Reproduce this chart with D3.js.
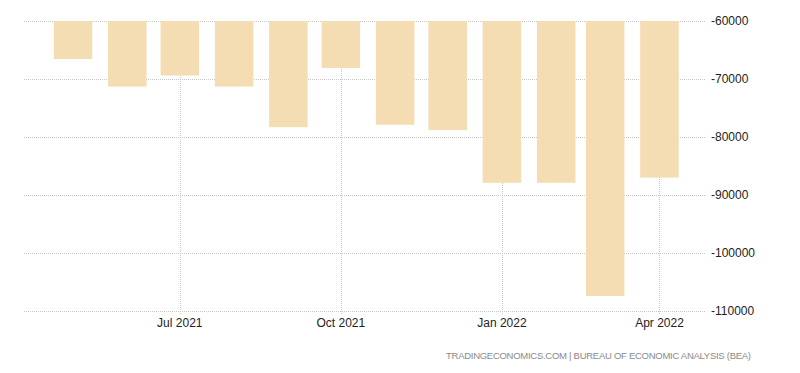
<!DOCTYPE html>
<html>
<head>
<meta charset="utf-8">
<script src="https://cdn.jsdelivr.net/npm/d3@7"></script>
<style>
  html, body { margin: 0; padding: 0; background: #fff; }
  svg { display: block; }
</style>
</head>
<body>
<svg id="chart" width="800" height="373"></svg>
<script>
// ---- data ----
const months = ["2021-05","2021-06","2021-07","2021-08","2021-09","2021-10","2021-11","2021-12","2022-01","2022-02","2022-03","2022-04"];
const values = [-66550, -71300, -69400, -71300, -78300, -68100, -77900, -78800, -87900, -87900, -107400, -87000];
const yTicks = [-60000, -70000, -80000, -90000, -100000, -110000];
const xTickDates = ["2021-07","2021-10","2022-01","2022-04"];
const xTickLabels = ["Jul 2021","Oct 2021","Jan 2022","Apr 2022"];
const sourceText = "TRADINGECONOMICS.COM | BUREAU OF ECONOMIC ANALYSIS (BEA)";

// ---- layout ----
(function () {
const parse = d3.timeParse("%Y-%m");
const svg = d3.select("#chart");
const plotL = 24, plotR = 705, plotT = 21, plotB = 311;

const x = d3.scaleTime()
  .domain([new Date(2021, 3, 3), new Date(2022, 3, 27)])
  .range([plotL, plotR]);
const y = d3.scaleLinear()
  .domain([-60000, -110000])
  .range([plotT, plotB]);

const gridColor = "#c8c8c8";

// horizontal grid
svg.append("g").selectAll("line").data(yTicks).join("line")
  .attr("x1", plotL).attr("x2", plotR)
  .attr("y1", d => Math.round(y(d)) + 0.5).attr("y2", d => Math.round(y(d)) + 0.5)
  .attr("stroke", gridColor).attr("stroke-width", 1)
  .attr("stroke-dasharray", "1,1");

// vertical grid
svg.append("g").selectAll("line").data(xTickDates).join("line")
  .attr("x1", d => Math.round(x(parse(d))) + 0.5).attr("x2", d => Math.round(x(parse(d))) + 0.5)
  .attr("y1", plotT).attr("y2", plotB + 3)
  .attr("stroke", gridColor).attr("stroke-width", 1)
  .attr("stroke-dasharray", "1,1");

// bars
const barW = d => (x(d3.timeDay.offset(d, 11)) - x(d3.timeDay.offset(d, -11)));
svg.append("g").selectAll("rect").data(months.map((m, i) => ({d: parse(m), v: values[i]}))).join("rect")
  .attr("x", p => x(d3.timeDay.offset(p.d, -11)))
  .attr("width", p => barW(p.d))
  .attr("y", y(-60000))
  .attr("height", p => y(p.v) - y(-60000))
  .attr("fill", "#F4DDB2");

// y axis labels (right)
svg.append("g").selectAll("text").data(yTicks).join("text")
  .attr("x", 711).attr("y", d => y(d))
  .attr("dy", "0.35em")
  .attr("font-family", "'Liberation Sans', Arial, sans-serif")
  .attr("font-size", 12)
  .attr("fill", "#222")
  .text(d => d);

// x axis labels
svg.append("g").selectAll("text").data(xTickDates).join("text")
  .attr("x", d => x(parse(d))).attr("y", 327)
  .attr("text-anchor", "middle")
  .attr("font-family", "'Liberation Sans', Arial, sans-serif")
  .attr("font-size", 12)
  .attr("fill", "#222")
  .text((d, i) => xTickLabels[i]);

// source
svg.append("text")
  .attr("x", 446).attr("y", 359)
  .attr("font-family", "'Liberation Sans', Arial, sans-serif")
  .attr("font-size", 9.5)
  .attr("fill", "#8a8a8a")
  .attr("textLength", 305)
  .attr("lengthAdjust", "spacing")
  .text(sourceText);
})();
</script>
</body>
</html>
